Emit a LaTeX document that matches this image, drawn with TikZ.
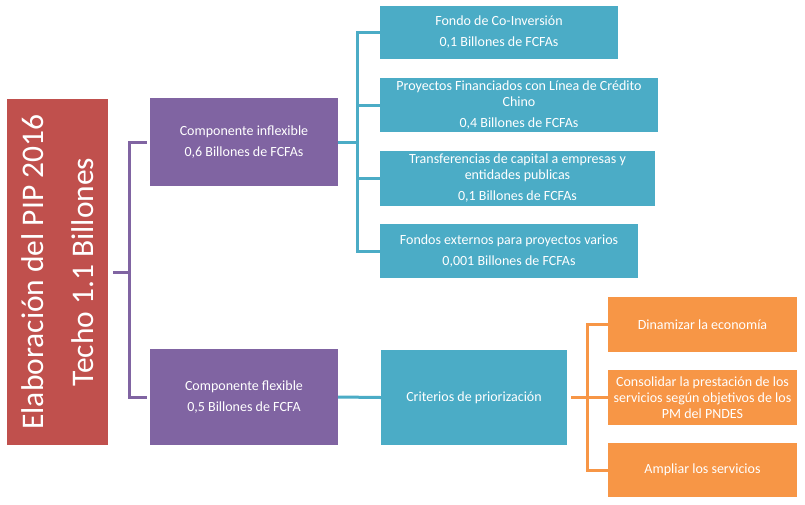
\documentclass[tikz,border=0pt]{standalone}
\usepackage{fontspec}
\setmainfont{Carlito}
\definecolor{cred}{HTML}{C0504D}
\definecolor{cpurple}{HTML}{8064A2}
\definecolor{cteal}{HTML}{4BACC6}
\definecolor{corange}{HTML}{F79646}
\tikzset{
  box/.style={rectangle, draw=none, inner sep=0pt, text=white, align=center,
    font=\fontsize{14}{16}\selectfont},
  redbox/.style={box, fill=cred},
  purplebox/.style={box, fill=cpurple},
  tealbox/.style={box, fill=cteal},
  orangebox/.style={box, fill=corange},
  pline/.style={draw=cpurple, line width=3pt},
  tline/.style={draw=cteal, line width=3pt},
  oline/.style={draw=corange, line width=3pt},
}
\begin{document}
\begin{tikzpicture}[x=1pt, y=-1pt]
\useasboundingbox[fill=white] (0,0) rectangle (805,504);

% root
\node[redbox, minimum width=101pt, minimum height=346pt] (red) at (57.5,272) {};
\node[text=white, rotate=90, align=center, inner sep=0pt,
  font=\fontsize{31.5}{50}\selectfont] (redtxt) at (57.5,272)
  {Elaboración del PIP 2016\\Techo 1.1 Billones};

% purple level
\node[purplebox, minimum width=188pt, minimum height=88pt] (p1) at (244,142)
  {Componente inflexible\\[5pt]0,6 Billones de FCFAs};
\node[purplebox, minimum width=188pt, minimum height=96pt] (p2) at (244,397)
  {Componente flexible\\[5pt]0,5 Billones de FCFA};

% teal level
\node[tealbox, minimum width=238pt, minimum height=53pt] (t1) at (499,32.5)
  {Fondo de Co-Inversión\\[5pt]0,1 Billones de FCFAs};
\node[tealbox, minimum width=278pt, minimum height=54pt] (t2) at (519,105)
  {Proyectos Financiados con Línea de Crédito\\Chino\\[5pt]0,4 Billones de FCFAs};
\node[tealbox, minimum width=275pt, minimum height=55pt] (t3) at (517.5,178.5)
  {Transferencias de capital a empresas y\\entidades publicas\\[5pt]0,1 Billones de FCFAs};
\node[tealbox, minimum width=258pt, minimum height=54pt] (t4) at (509,251)
  {Fondos externos para proyectos varios\\[5pt]0,001 Billones de FCFAs};
\node[tealbox, minimum width=186pt, minimum height=95pt] (crit) at (474,397.5)
  {Criterios de priorización};

% orange level
\node[orangebox, minimum width=189pt, minimum height=55pt] (o1) at (702.5,324.5)
  {Dinamizar la economía};
\node[orangebox, minimum width=189pt, minimum height=55pt] (o2) at (702.5,397.5)
  {Consolidar la prestación de los\\servicios según objetivos de los\\PM del PNDES};
\node[orangebox, minimum width=189pt, minimum height=54pt] (o3) at (702.5,470)
  {Ampliar los servicios};

% purple bracket
\coordinate (pj) at ([xshift=-20pt]p1.west |- red.east);
\draw[pline] ([xshift=5pt]red.east) -- (pj);
\draw[pline] ([xshift=-3pt]p1.west) -- ++(-17,0) |- ([xshift=-3pt]p2.west);

% teal bracket
\coordinate (tj) at ([xshift=-22pt]t1.west |- p1.east);
\draw[tline] (p1.east) -- (tj);
\draw[tline] (t1.west) -- ++(-22,0) |- (t4.west);
\draw[tline] (t2.west) -- ++(-22,0);
\draw[tline] (t3.west) -- ++(-22,0);
\draw[tline] (p2.east) -- (crit.west);

% orange bracket
\coordinate (oj) at ([xshift=-20pt]o2.west);
\draw[oline] ([xshift=4pt]crit.east) -- (oj);
\draw[oline] (o1.west) -- ++(-20,0) |- (o3.west);
\draw[oline] (o2.west) -- ++(-20,0);
\end{tikzpicture}
\end{document}
